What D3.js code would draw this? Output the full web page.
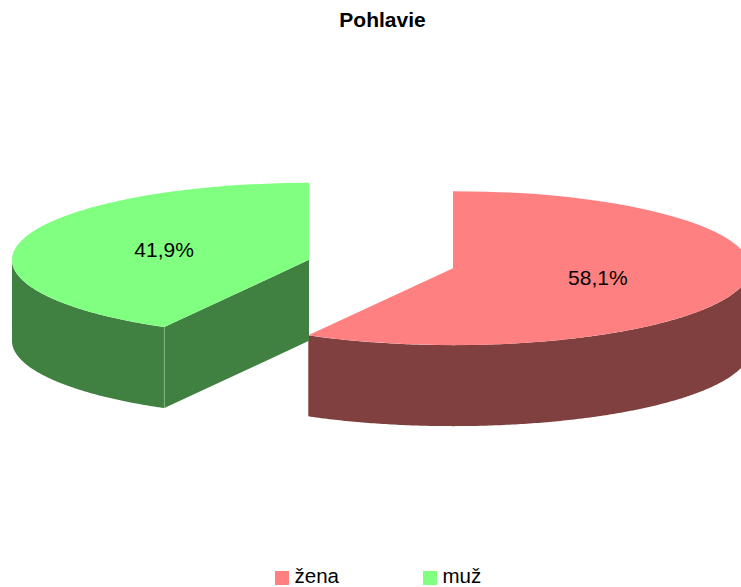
<!DOCTYPE html>
<html lang="sk">
<head>
  <meta charset="UTF-8">
  <title>Pohlavie</title>
  <script src="https://cdnjs.cloudflare.com/ajax/libs/d3/7.8.5/d3.min.js"></script>
  <style>
    html, body { margin: 0; background: #fff; overflow: hidden; }
    svg { display: block; font-family: "Liberation Sans", Arial, sans-serif; }
  </style>
</head>
<body>
  <div id="chart"></div>
  <script>
    const categories = ["žena", "muž"];
    const shares = [58.1, 41.9];
    const topColors = ["#ff8080", "#80ff80"];
    const sideColors = ["#804040", "#408040"];

    const width = 741, height = 587;
    const center = { x: 381, y: 264 };
    const rx = 297, ry = 77, depth = 81, explode = 74.4;

    const svg = d3.select("#chart").append("svg")
      .attr("width", width)
      .attr("height", height);

    svg.append("text")
      .attr("x", 382.5)
      .attr("y", 27)
      .attr("text-anchor", "middle")
      .attr("font-size", 21)
      .attr("font-weight", "bold")
      .text("Pohlavie");

    const slices = d3.pie().sort(null)(shares);
    const arc = d3.arc().innerRadius(0).outerRadius(rx);
    const formatShare = d => d3.format(".1f")(d).replace(".", ",") + "%";

    // flatten the circle into an ellipse, 0 angle is at the top
    const ex = (o, a) => o.x + rx * Math.sin(a);
    const ey = (o, a) => o.y - ry * Math.cos(a);

    const wall = d3.area()
      .x(d => d.x)
      .y0(d => d.y)
      .y1(d => d.y + depth);

    slices.forEach(s => {
      const mid = (s.startAngle + s.endAngle) / 2;
      s.origin = {
        x: center.x + explode * Math.sin(mid),
        y: center.y - explode * Math.cos(mid) * ry / rx * 0.85
      };
    });

    slices.forEach(s => {
      const o = s.origin;
      const fill = sideColors[s.index];
      const cutFaces = s.startAngle > Math.PI && s.startAngle < Math.PI * 1.5;

      // cut face, only the one looking towards the viewer
      if (cutFaces) {
        const edge = [{ x: ex(o, s.startAngle), y: ey(o, s.startAngle) }, { x: o.x, y: o.y }];
        svg.append("path").attr("d", wall(edge)).attr("fill", fill);
      }

      // outer wall, front half of the ellipse only
      const from = Math.max(s.startAngle, Math.PI / 2);
      const to = Math.min(s.endAngle, Math.PI * 1.5);
      const angles = d3.range(from, to, 0.01).concat([to]);
      svg.append("path")
        .attr("d", wall(angles.map(a => ({ x: ex(o, a), y: ey(o, a) }))))
        .attr("fill", fill);

      // seam between cut face and outer wall
      if (cutFaces) {
        svg.append("line")
          .attr("x1", ex(o, s.startAngle))
          .attr("x2", ex(o, s.startAngle))
          .attr("y1", ey(o, s.startAngle))
          .attr("y2", ey(o, s.startAngle) + depth)
          .attr("stroke", "#80b080")
          .attr("stroke-width", 1);
      }

      svg.append("path")
        .attr("d", arc(s))
        .attr("transform", `translate(${o.x},${o.y}) scale(1,${ry / rx})`)
        .attr("fill", topColors[s.index]);
    });

    const labelArc = d3.arc().innerRadius(0).outerRadius(rx * 1.008);
    slices.forEach(s => {
      const c = labelArc.centroid(s);
      svg.append("text")
        .attr("x", s.origin.x + c[0])
        .attr("y", s.origin.y + c[1] * ry / rx + 7)
        .attr("text-anchor", "middle")
        .attr("font-size", 21)
        .text(formatShare(shares[s.index]));
    });

    const legendX = d3.scaleOrdinal().domain(categories).range([275, 423]);
    const legend = svg.selectAll("g.legend")
      .data(categories)
      .join("g")
        .attr("class", "legend")
        .attr("transform", d => `translate(${legendX(d)},571)`);

    legend.append("rect")
      .attr("width", 14)
      .attr("height", 14)
      .attr("fill", (d, i) => topColors[i]);

    legend.append("text")
      .attr("x", 19.5)
      .attr("y", 12)
      .attr("font-size", 20.5)
      .text(d => d);
  </script>
</body>
</html>
